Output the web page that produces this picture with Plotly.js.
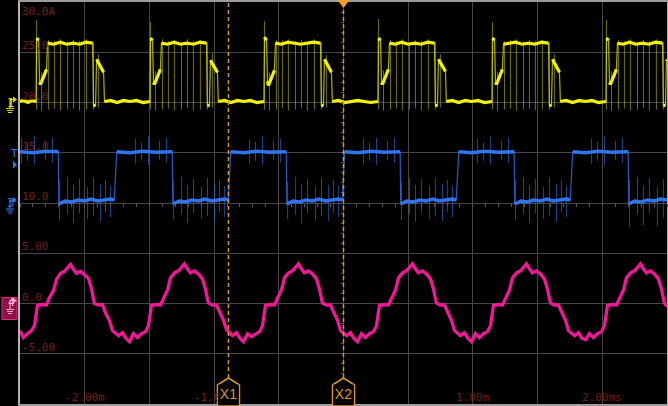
<!DOCTYPE html>
<html><head><meta charset="utf-8">
<script src="https://cdn.plot.ly/plotly-3.0.1.min.js"></script>
<style>html,body{margin:0;padding:0;background:#000;overflow:hidden}#chart{width:668px;height:406px}</style>
</head><body><div id="chart"></div>
<script>
// ---- time axis (ms) labels (the 0 label is hidden by the X2 cursor flag on the scope) ----
const xTickVals = [-2, -1, 1, 2];
const xTickText = ["-2.00m", "-1.00m", "1.00m", "2.00ms"];
// ---- vertical scale labels ----
const yLabelVals = [30, 25, 20, 15, 10, 5, 0, -5];
const yLabelText = ["30.0A", "25.0", "20.0", "15.0", "10.0", "5.00", "0.0", "-5.00"];
// ---- cursors ----
const cursorTimes = [-0.889, 0];
const cursorNames = ["X1", "X2"];
const triggerTime = 0;

// ---- channel 1 (yellow) ----
const yellowT = [-2.500,-2.470,-2.440,-2.410,-2.376,-2.372,-2.356,-2.348,-2.341,-2.295,-2.287,-2.240,-2.190,-2.140,-2.090,-2.040,-1.990,-1.939,-1.932,-1.916,-1.908,-1.854,-1.847,-1.800,-1.750,-1.700,-1.650,-1.600,-1.550,-1.496,
 -1.492,-1.476,-1.468,-1.461,-1.415,-1.407,-1.360,-1.310,-1.260,-1.210,-1.160,-1.110,-1.059,-1.052,-1.036,-1.028,-0.974,-0.967,-0.920,-0.870,-0.820,-0.770,-0.720,-0.670,-0.615,
 -0.611,-0.595,-0.587,-0.580,-0.534,-0.526,-0.480,-0.430,-0.380,-0.330,-0.280,-0.230,-0.178,-0.171,-0.155,-0.147,-0.093,-0.086,-0.040,0.010,0.060,0.110,0.160,0.210,0.266,
 0.270,0.286,0.294,0.301,0.347,0.355,0.400,0.450,0.500,0.550,0.600,0.650,0.703,0.710,0.726,0.734,0.788,0.795,0.840,0.890,0.940,0.990,1.040,1.090,1.147,
 1.151,1.167,1.175,1.182,1.228,1.236,1.280,1.330,1.380,1.430,1.480,1.530,1.584,1.591,1.607,1.615,1.669,1.676,1.720,1.770,1.820,1.870,1.920,1.970,2.028,
 2.032,2.048,2.056,2.063,2.109,2.117,2.160,2.210,2.260,2.310,2.360,2.410,2.465,2.472,2.488,2.496,2.500];
const yellowV = [20.1,20.2,20.0,20.2,20.1,26.4,26.2,22.0,21.8,23.3,25.9,25.8,26.0,25.8,25.9,25.8,26.0,25.9,19.7,19.7,24.3,23.0,20.1,20.2,20.0,20.2,20.1,20.2,20.0,20.1,
 26.4,26.2,22.0,21.8,23.3,25.9,25.8,26.0,25.8,25.9,25.8,26.0,25.9,19.7,19.7,24.2,23.0,20.1,20.2,20.0,20.2,20.1,20.2,20.0,20.1,
 26.5,26.2,22.1,21.7,23.2,25.9,25.8,26.0,25.9,25.8,25.9,26.0,25.9,19.7,19.7,24.3,23.0,20.1,20.2,20.0,20.1,20.2,20.1,20.0,20.1,
 26.4,26.2,22.0,21.8,23.3,25.9,25.8,26.0,25.8,25.9,25.8,26.0,25.9,19.7,19.7,24.3,23.1,20.1,20.2,20.0,20.2,20.1,20.2,20.0,20.1,
 26.4,26.2,22.0,21.8,23.3,25.8,25.9,26.0,25.8,25.9,25.8,26.0,25.9,19.7,19.7,24.3,23.0,20.1,20.2,20.0,20.2,20.1,20.2,20.0,20.1,
 26.4,26.2,22.0,21.8,23.3,25.9,25.8,26.0,25.8,25.9,25.8,26.0,25.9,19.7,19.7,24.3,24.2];
const yellowSpikeT = [-2.372,-2.333,-2.279,-2.233,-2.187,-2.132,-2.086,-2.040,-1.986,-1.932,-1.893,
 -1.492,-1.453,-1.399,-1.353,-1.307,-1.252,-1.206,-1.160,-1.106,-1.052,-1.013,
 -0.611,-0.572,-0.518,-0.472,-0.426,-0.371,-0.325,-0.279,-0.225,-0.171,-0.132,
 0.270,0.309,0.363,0.409,0.455,0.510,0.556,0.602,0.656,0.710,0.749,
 1.151,1.190,1.244,1.290,1.336,1.391,1.437,1.483,1.537,1.591,1.630,
 2.032,2.071,2.125,2.171,2.217,2.272,2.318,2.364,2.418,2.472];
const yellowSpikeTop = [28.2,23.0,26.2,26.1,26.3,26.0,26.2,26.1,26.3,26.0,24.8,
 28.0,23.1,26.3,26.1,26.2,26.0,26.3,26.1,26.2,26.0,24.9,
 28.1,23.0,26.2,26.2,26.3,26.1,26.2,26.0,26.3,26.0,24.7,
 28.3,23.2,26.2,26.1,26.3,26.0,26.2,26.1,26.3,26.0,24.8,
 28.0,23.0,26.1,26.2,26.3,26.0,26.2,26.1,26.2,26.0,24.8,
 28.2,23.1,26.2,26.1,26.3,26.0,26.2,26.1,26.3,26.0];
const yellowSpikeBot = [19.3,19.2,19.3,19.4,19.2,19.3,19.4,19.2,19.3,19.3,19.5,
 19.3,19.2,19.3,19.4,19.2,19.3,19.4,19.2,19.3,19.3,19.5,
 19.3,19.2,19.3,19.4,19.2,19.3,19.4,19.2,19.3,19.3,19.5,
 19.3,19.2,19.3,19.4,19.2,19.3,19.4,19.2,19.3,19.3,19.5,
 19.3,19.2,19.3,19.4,19.2,19.3,19.4,19.2,19.3,19.3,19.5,
 19.3,19.2,19.3,19.4,19.2,19.3,19.4,19.2,19.3,19.3];

// ---- channel 3 (blue) ----
const blueT = [-2.500,-2.400,-2.300,-2.204,-2.200,-2.150,-2.100,-2.050,-2.000,-1.950,-1.900,-1.850,-1.800,-1.772,-1.752,-1.650,-1.550,-1.450,-1.323,
 -1.319,-1.270,-1.220,-1.170,-1.120,-1.070,-1.020,-0.970,-0.920,-0.891,-0.871,-0.770,-0.670,-0.570,-0.442,
 -0.438,-0.390,-0.340,-0.290,-0.240,-0.190,-0.140,-0.090,-0.040,-0.010,0.010,0.110,0.210,0.310,0.438,
 0.442,0.490,0.540,0.590,0.640,0.690,0.740,0.790,0.840,0.871,0.891,0.990,1.090,1.190,1.319,
 1.323,1.370,1.420,1.470,1.520,1.570,1.620,1.670,1.720,1.752,1.772,1.870,1.970,2.070,2.200,
 2.204,2.250,2.300,2.350,2.400,2.450,2.500];
const blueV = [15.1,15.0,15.15,15.1,9.9,10.2,10.1,10.3,10.2,10.4,10.2,10.3,10.4,10.3,15.1,15.0,15.15,15.05,15.1,
 9.9,10.2,10.1,10.3,10.2,10.4,10.2,10.3,10.4,10.3,15.1,15.0,15.15,15.05,15.1,
 9.9,10.2,10.1,10.3,10.2,10.4,10.2,10.3,10.4,10.3,15.1,15.0,15.15,15.05,15.1,
 9.9,10.2,10.1,10.3,10.2,10.4,10.2,10.3,10.4,10.3,15.1,15.0,15.15,15.05,15.1,
 9.9,10.2,10.1,10.3,10.2,10.4,10.2,10.3,10.4,10.3,15.1,15.0,15.15,15.05,15.1,
 9.9,10.2,10.1,10.3,10.2,10.4,10.3];
const blueSpikeT = [-2.488,-2.442,-2.388,-2.303,-2.249,
 -2.194,-2.132,-2.086,-2.040,-1.978,-1.932,-1.877,-1.839,-1.800,
 -1.607,-1.561,-1.507,-1.422,-1.368,
 -1.313,-1.251,-1.205,-1.159,-1.097,-1.051,-0.996,-0.958,-0.919,
 -0.726,-0.680,-0.626,-0.541,-0.487,
 -0.432,-0.370,-0.324,-0.278,-0.216,-0.170,-0.115,-0.077,-0.038,
 0.155,0.201,0.255,0.340,0.394,
 0.448,0.510,0.556,0.602,0.664,0.710,0.765,0.803,0.842,
 1.036,1.082,1.136,1.221,1.275,
 1.329,1.391,1.437,1.483,1.545,1.591,1.646,1.684,1.723,
 1.917,1.963,2.017,2.102,2.156,
 2.210,2.272,2.318,2.364,2.426,2.472];
const blueSpikeTop = [16.4,16.0,16.6,16.2,16.5,
 12.2,12.6,11.8,12.4,11.6,12.5,11.9,12.3,11.7,
 16.4,16.0,16.6,16.2,16.5,
 12.2,12.6,11.8,12.4,11.6,12.5,11.9,12.3,11.7,
 16.3,16.1,16.6,16.2,16.4,
 12.1,12.6,11.9,12.4,11.6,12.5,11.8,12.3,11.7,
 16.4,16.0,16.5,16.2,16.5,
 12.2,12.5,11.8,12.4,11.7,12.5,11.9,12.3,11.7,
 16.4,16.0,16.6,16.2,16.5,
 12.2,12.6,11.8,12.4,11.6,12.5,11.9,12.3,11.7,
 16.4,16.1,16.6,16.2,16.5,
 12.3,12.6,11.8,12.5,11.6,12.4];
const blueSpikeBot = [13.9,14.2,13.8,14.3,14.0,
 8.3,8.9,8.0,9.0,8.4,8.7,8.2,9.1,8.6,
 13.9,14.2,13.8,14.3,14.0,
 8.3,8.9,8.0,9.0,8.4,8.7,8.2,9.1,8.6,
 13.9,14.2,13.8,14.3,14.0,
 8.4,8.8,8.0,9.0,8.3,8.7,8.2,9.0,8.6,
 13.9,14.2,13.8,14.3,14.0,
 8.3,8.9,8.1,9.0,8.4,8.7,8.2,9.1,8.6,
 13.9,14.2,13.8,14.3,14.0,
 8.3,8.9,8.0,9.0,8.4,8.7,8.2,9.1,8.6,
 13.9,14.2,13.8,14.3,14.0,
 7.6,8.9,7.8,9.0,7.7,8.5];

// ---- channel 4 (pink) ----
const pinkT = [-2.500,-2.473,-2.442,-2.411,-2.388,-2.365,-2.326,-2.295,-2.272,-2.241,-2.218,-2.187,-2.156,-2.133,-2.110,-2.087,-2.064,-2.033,-2.002,-1.971,-1.948,-1.925,-1.894,-1.863,-1.840,-1.809,
 -1.785,-1.739,-1.708,-1.685,-1.654,-1.623,-1.592,-1.561,-1.530,-1.507,-1.484,-1.445,-1.414,-1.391,-1.360,-1.337,-1.306,-1.275,-1.252,-1.229,-1.206,-1.183,-1.152,-1.121,-1.090,-1.067,-1.044,-1.013,-0.982,-0.959,-0.928,
 -0.904,-0.858,-0.827,-0.804,-0.773,-0.742,-0.711,-0.680,-0.649,-0.626,-0.603,-0.564,-0.533,-0.510,-0.479,-0.456,-0.425,-0.394,-0.371,-0.348,-0.325,-0.302,-0.271,-0.240,-0.209,-0.186,-0.163,-0.132,-0.101,-0.078,-0.047,
 -0.023,0.023,0.054,0.077,0.108,0.139,0.170,0.201,0.232,0.255,0.278,0.317,0.348,0.371,0.402,0.425,0.456,0.487,0.510,0.533,0.556,0.579,0.610,0.641,0.672,0.695,0.718,0.749,0.780,0.803,0.834,
 0.858,0.904,0.935,0.958,0.989,1.020,1.051,1.082,1.113,1.136,1.159,1.198,1.229,1.252,1.283,1.306,1.337,1.368,1.391,1.414,1.437,1.460,1.491,1.522,1.553,1.576,1.599,1.630,1.661,1.684,1.715,
 1.739,1.785,1.816,1.839,1.870,1.901,1.932,1.963,1.994,2.017,2.040,2.079,2.110,2.133,2.164,2.187,2.218,2.249,2.272,2.295,2.318,2.341,2.372,2.403,2.434,2.457,2.480,2.500];
const pinkV = [-2.7,-3.4,-3.0,-2.7,-2.2,-0.2,-0.1,-0.15,0.6,1.3,2.4,3.0,3.2,3.6,3.9,3.4,3.0,3.2,2.9,2.5,1.5,0.0,-0.15,-0.1,-0.9,-1.7,
 -2.7,-3.2,-2.9,-3.4,-3.8,-3.0,-3.4,-3.0,-2.8,-2.2,-0.2,-0.1,-0.15,0.55,1.35,2.55,3.05,3.25,3.65,3.95,3.45,3.05,3.25,2.95,2.45,1.45,0.05,-0.15,-0.15,-0.85,-1.65,
 -2.6,-3.2,-2.9,-3.4,-3.8,-3.0,-3.3,-3.0,-2.8,-2.2,-0.2,-0.1,-0.15,0.55,1.35,2.55,3.05,3.25,3.65,3.95,3.45,3.05,3.25,2.95,2.45,1.45,0.05,-0.15,-0.15,-0.85,-1.65,
 -2.7,-3.2,-2.9,-3.4,-3.8,-3.0,-3.4,-3.0,-2.8,-2.2,-0.2,-0.1,-0.15,0.55,1.35,2.55,3.05,3.25,3.65,3.95,3.45,3.05,3.25,2.95,2.45,1.45,0.05,-0.15,-0.15,-0.85,-1.65,
 -2.7,-3.2,-2.9,-3.4,-3.8,-3.0,-3.4,-3.0,-2.8,-2.2,-0.2,-0.1,-0.15,0.55,1.35,2.55,3.05,3.25,3.65,3.95,3.45,3.05,3.25,2.95,2.45,1.45,0.05,-0.15,-0.15,-0.85,-1.65,
 -2.7,-3.2,-2.9,-3.4,-3.6,-3.0,-3.4,-3.0,-2.8,-2.2,-0.2,-0.1,-0.15,0.55,1.35,2.55,3.05,3.25,3.65,3.95,3.45,3.05,3.25,2.95,2.45,1.45,0.05,-0.3];

// ---- colours ----
const C_YEL = '#f2f200', C_YEL_SP = 'rgba(225,225,0,0.5)';
const C_BLU = '#2f74f0', C_BLU_SP = 'rgba(50,115,235,0.6)';
const C_PNK = '#f01898';
const C_CUR = '#dc9430';
const C_LBL = '#781e16';
const C_GRID = '#464646';

function spikes(t, top, bot) {
  const x = [], y = [];
  for (let i = 0; i < t.length; i++) { x.push(t[i], t[i], null); y.push(bot[i], top[i], null); }
  return {x, y};
}
// fast edges are drawn faint (like a scope); slow parts thick
function splitFast(t, v, maxDt, minDv) {
  const x = [], y = [];
  for (let i = 0; i < t.length; i++) {
    if (i > 0 && (t[i] - t[i - 1]) < maxDt && Math.abs(v[i] - v[i - 1]) > minDv) { x.push(null); y.push(null); }
    x.push(t[i]); y.push(v[i]);
  }
  return {x, y};
}
const ys = spikes(yellowSpikeT, yellowSpikeTop, yellowSpikeBot);
const bs = spikes(blueSpikeT, blueSpikeTop, blueSpikeBot);
const yMain = splitFast(yellowT, yellowV, 0.012, 1.5);
const bMain = splitFast(blueT, blueV, 0.025, 1.5);

const traces = [
  {x: ys.x, y: ys.y, mode: 'lines', line: {color: C_YEL_SP, width: 1}, hoverinfo: 'skip', connectgaps: false},
  {x: yellowT, y: yellowV, mode: 'lines', line: {color: 'rgba(235,235,0,0.75)', width: 1.2}, hoverinfo: 'skip'},
  {x: yMain.x, y: yMain.y, mode: 'lines', line: {color: C_YEL, width: 3.2}, hoverinfo: 'skip', connectgaps: false},
  {x: bs.x, y: bs.y, mode: 'lines', line: {color: C_BLU_SP, width: 1}, hoverinfo: 'skip', connectgaps: false},
  {x: blueT, y: blueV, mode: 'lines', line: {color: 'rgba(50,115,240,0.8)', width: 1.2}, hoverinfo: 'skip'},
  {x: bMain.x, y: bMain.y, mode: 'lines', line: {color: C_BLU, width: 3.5}, hoverinfo: 'skip', connectgaps: false},
  {x: pinkT, y: pinkV, mode: 'lines', line: {color: C_PNK, width: 3.3}, hoverinfo: 'skip'},
  {x: [null], y: [null], xaxis: 'x2', yaxis: 'y', mode: 'lines', hoverinfo: 'skip'},
  {x: [null], y: [null], xaxis: 'x', yaxis: 'y2', mode: 'lines', hoverinfo: 'skip'}
];

const shapes = [];
const annotations = [];

// time labels along the bottom, inside the grid
xTickVals.forEach((v, i) => {
  annotations.push({xref: 'x', x: v, xanchor: 'center', yref: 'paper', y: 0, yanchor: 'middle', yshift: 7,
    text: xTickText[i], showarrow: false, font: {family: 'DejaVu Sans Mono', size: 11, color: C_LBL}});
});

cursorTimes.forEach((t, i) => {
  shapes.push({type: 'line', layer: 'above', xref: 'x', x0: t, x1: t, yref: 'paper', ysizemode: 'pixel', yanchor: 0, y0: 26, y1: 402,
    line: {color: C_CUR, width: 1.5, dash: '4px,3px'}});
  shapes.push({type: 'path', layer: 'above', xref: 'x', xsizemode: 'pixel', xanchor: t, yref: 'paper', ysizemode: 'pixel', yanchor: 0,
    path: 'M -11,-2 L -11,19 L 0,26 L 11,19 L 11,-2 Z', fillcolor: '#000', line: {color: C_CUR, width: 1.5}});
  annotations.push({xref: 'x', x: t, xanchor: 'center', yref: 'paper', y: 0, yanchor: 'bottom', yshift: 0,
    width: 19, height: 18, borderpad: 0, bgcolor: '#000', valign: 'middle',
    text: cursorNames[i], showarrow: false, font: {family: 'Liberation Sans', size: 14, color: C_CUR}});
});
shapes.push({type: 'path', layer: 'above', xref: 'x', xsizemode: 'pixel', xanchor: triggerTime, yref: 'paper', ysizemode: 'pixel', yanchor: 1,
  path: 'M -6,2 L 6,2 L 0,-6 Z', fillcolor: '#f0a028', line: {width: 0}});

yLabelVals.forEach((v, i) => {
  annotations.push({xref: 'paper', x: 0, xanchor: 'left', xshift: 0, yref: 'y', y: v, yanchor: i === 0 ? 'top' : 'bottom', yshift: i === 0 ? -1 : -2,
    text: yLabelText[i], showarrow: false, font: {family: 'DejaVu Sans Mono', size: 11, color: C_LBL}});
});

// channel markers on the left edge
function groundMarker(v, color) {
  shapes.push({type: 'path', layer: 'above', xref: 'paper', xsizemode: 'pixel', xanchor: 0, yref: 'y', ysizemode: 'pixel', yanchor: v,
    path: 'M -10,3 L -10,-6 M -10,3 L -7,3 M -14,-6 L -6,-6 M -13,-8 L -7,-8 M -12,-10 L -8,-10', line: {color: color, width: 1.2}});
  shapes.push({type: 'path', layer: 'above', xref: 'paper', xsizemode: 'pixel', xanchor: 0, yref: 'y', ysizemode: 'pixel', yanchor: v,
    path: 'M -7,6 L -3,3 L -7,0 Z', fillcolor: color, line: {width: 0}});
}
annotations.push({xref: 'paper', x: 0, xshift: -15, yref: 'y', y: 20, text: '1', showarrow: false, font: {family: 'DejaVu Sans Mono', size: 12, color: C_YEL}});
groundMarker(20, '#d8d800');
annotations.push({xref: 'paper', x: 0, xshift: -15, yref: 'y', y: 10, text: '3', showarrow: false, font: {family: 'DejaVu Sans Mono', size: 12, color: C_BLU}});
groundMarker(10, C_BLU);
annotations.push({xref: 'paper', x: 0, xanchor: 'center', xshift: -6, yref: 'y', y: 14.9, yanchor: 'middle', text: 'T', showarrow: false, font: {family: 'DejaVu Sans', size: 11, color: C_BLU}});
shapes.push({type: 'path', layer: 'above', xref: 'paper', xsizemode: 'pixel', xanchor: 0, yref: 'y', ysizemode: 'pixel', yanchor: 13.8,
  path: 'M -7,4 L -3,0 L -7,-4 Z', fillcolor: C_BLU, line: {width: 0}});
shapes.push({type: 'rect', layer: 'above', xref: 'paper', xsizemode: 'pixel', xanchor: 0, x0: -18, x1: -3, yref: 'y', ysizemode: 'pixel', yanchor: 0, y0: -16, y1: 6,
  fillcolor: '#8e1248', line: {color: '#d8307e', width: 1}});
annotations.push({xref: 'paper', x: 0, xshift: -14, yref: 'y', y: 0, yshift: 1, text: '4', showarrow: false, font: {family: 'DejaVu Sans Mono', size: 11, color: '#ffb4d4'}});
groundMarker(0, '#ff9cc8');

const layout = {
  width: 668, height: 406,
  margin: {l: 20, r: 1, t: 2, b: 2, pad: 0},
  paper_bgcolor: '#000', plot_bgcolor: '#000',
  showlegend: false,
  xaxis: {range: [-2.5, 2.5], tickmode: 'linear', tick0: -2.5, dtick: 0.5, showticklabels: false, ticks: '',
    showgrid: true, gridcolor: C_GRID, gridwidth: 1, zeroline: false,
    showline: true, mirror: true, linecolor: '#9c9c9c', linewidth: 2, fixedrange: true},
  yaxis: {range: [-10, 30], tickmode: 'linear', tick0: -10, dtick: 5, showticklabels: false, ticks: '',
    showgrid: true, gridcolor: C_GRID, gridwidth: 1, zeroline: false,
    showline: true, mirror: true, linecolor: '#b4b4b4', linewidth: 2, fixedrange: true},
  xaxis2: {overlaying: 'x', anchor: 'free', position: 0.5, range: [-2.5, 2.5], tickmode: 'linear', tick0: 0, dtick: 0.1,
    ticks: 'outside', ticklen: 3, tickcolor: '#5a5a5a', showticklabels: false, showgrid: false, zeroline: false, showline: false},
  yaxis2: {overlaying: 'y', anchor: 'free', position: 0.5, range: [-10, 30], tickmode: 'linear', tick0: 0, dtick: 1,
    ticks: 'outside', ticklen: 3, tickcolor: '#5a5a5a', showticklabels: false, showgrid: false, zeroline: false, showline: false},
  shapes: shapes,
  annotations: annotations
};
Plotly.newPlot('chart', traces, layout, {staticPlot: true, displayModeBar: false});
</script></body></html>
